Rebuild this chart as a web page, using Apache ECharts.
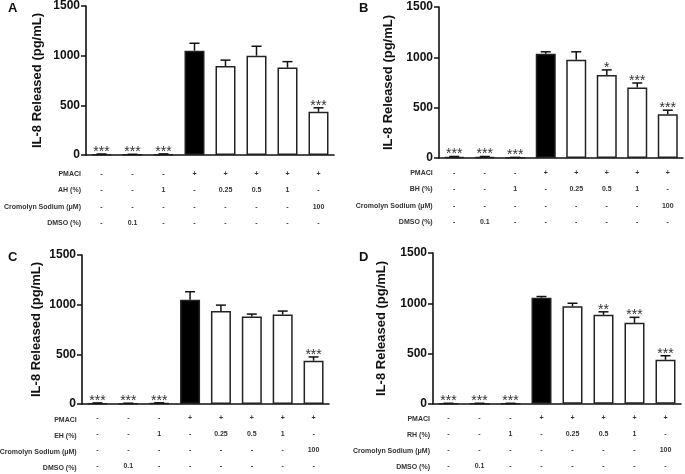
<!DOCTYPE html>
<html><head><meta charset="utf-8">
<script src="https://cdn.jsdelivr.net/npm/echarts@6/dist/echarts.min.js"></script>
<style>html,body{margin:0;padding:0;background:#fff}#c{width:685px;height:474px}</style>
</head><body><div id="c"></div>
<script>
// ---- data ----
const columns = ['1','2','3','4','5','6','7','8'];
const rowPMACI    = ['-','-','-','+','+','+','+','+'];
const rowExtract  = ['-','-','1','-','0.25','0.5','1','-'];
const rowCromolyn = ['-','-','-','-','-','-','-','100'];
const rowDMSO     = ['-','0.1','-','-','-','-','-','-'];

const panelLetters = ['A','B','C','D'];
const extractNames = ['AH (%)','BH (%)','EH (%)','RH (%)'];

const meanA = [5, 4, 6, 1050, 895, 1000, 880, 435];
const errA  = [5, 3, 5, 75, 60, 95, 60, 40];
const sigA  = ['***','***','***','','','','','***'];

const meanB = [10, 10, 3, 1035, 975, 825, 700, 435];
const errB  = [5, 5, 3, 20, 80, 50, 45, 40];
const sigB  = ['***','***','***','','','*','***','***'];

const meanC = [5, 4, 6, 1050, 935, 880, 900, 435];
const errC  = [5, 3, 5, 80, 60, 25, 35, 38];
const sigC  = ['***','***','***','','','','','***'];

const meanD = [3, 3, 3, 1055, 970, 885, 805, 438];
const errD  = [2, 2, 2, 12, 30, 30, 55, 40];
const sigD  = ['***','***','***','','','**','***','***'];

const yTicks = [0, 500, 1000, 1500];
const yTitle = 'IL-8 Released (pg/mL)';

// ---- layout ----
const FONT = '"Liberation Sans", Arial, sans-serif';
const grids = [
  {left:86,  top:4,   width:248, height:151},
  {left:439, top:7,   width:244, height:151},
  {left:82,  top:255, width:247, height:151},
  {left:433, top:253, width:248, height:152}
];
const nameGaps = [42, 44, 39, 45];
const labelMargins = [11, 6.5, 5.7, 6.6];
const lineHeights = [16.3, 16.5, 16.1, 15.9];
const rowLabelRight = [81, 432.7, 76.7, 430];
const letterPos = [[8,2],[359,2],[8,251],[359,251]];

const panels = [
  {mean:meanA, err:errA, sig:sigA},
  {mean:meanB, err:errB, sig:sigB},
  {mean:meanC, err:errC, sig:sigC},
  {mean:meanD, err:errD, sig:sigD}
];

const xAxes = [], yAxes = [], series = [], graphics = [];
panels.forEach((p, k) => {
  xAxes.push({
    type:'category', gridIndex:k, data:columns,
    axisLine:{lineStyle:{color:'#111', width:1.6}},
    axisTick:{alignWithLabel:true, length:4, lineStyle:{color:'#111', width:1.5}},
    axisLabel:{
      interval:0, margin:labelMargins[k], fontSize:7, fontWeight:'bold', color:'#333',
      fontFamily:FONT, lineHeight:lineHeights[k],
      formatter:(v, i) => [rowPMACI[i], rowExtract[i], rowCromolyn[i], rowDMSO[i]].join('\n')
    }
  });
  yAxes.push({
    type:'value', gridIndex:k, min:yTicks[0], max:yTicks[yTicks.length-1], interval:500,
    name:yTitle, nameLocation:'middle', nameGap:nameGaps[k],
    nameTextStyle:{fontSize:13, fontWeight:'bold', color:'#111', fontFamily:FONT},
    axisLine:{show:true, lineStyle:{color:'#111', width:1.6}},
    axisTick:{show:true, length:5, lineStyle:{color:'#111', width:1.5}},
    axisLabel:{fontSize:12, fontWeight:'bold', color:'#111', fontFamily:FONT, margin:6,
      formatter:(v) => String(v)},
    splitLine:{show:false}
  });
  series.push({
    type:'bar', xAxisIndex:k, yAxisIndex:k, barWidth:20, z:2,
    data:p.mean.map((v, i) => ({
      value:v,
      itemStyle:{color: i === 3 ? '#000' : '#fff', borderColor:'#222', borderWidth:1.5}
    }))
  });
  const sig = p.sig;
  series.push({
    type:'custom', xAxisIndex:k, yAxisIndex:k, z:5,
    data:p.mean.map((v, i) => [i, v, p.err[i]]),
    renderItem:(params, api) => {
      const x = api.value(0), v = api.value(1), e = api.value(2);
      const p0 = api.coord([x, v]), p1 = api.coord([x, v + e]);
      const cap = 5;
      const ch = [
        {type:'line', shape:{x1:p0[0], y1:p0[1], x2:p1[0], y2:p1[1]}, style:{stroke:'#111', lineWidth:1.5}},
        {type:'line', shape:{x1:p1[0]-cap, y1:p1[1], x2:p1[0]+cap, y2:p1[1]}, style:{stroke:'#111', lineWidth:1.5}}
      ];
      const s = sig[params.dataIndex];
      if (s) ch.push({type:'text', style:{text:s, x:p1[0], y:p1[1]+5, align:'center', verticalAlign:'bottom',
        fontSize:14, fontFamily:FONT, fill:'#333'}});
      return {type:'group', children:ch};
    }
  });
  // row labels
  const g = grids[k];
  const axisY = g.top + g.height;
  const rowNames = ['PMACI', extractNames[k], 'Cromolyn Sodium (\u03bcM)', 'DMSO (%)'];
  rowNames.forEach((t, r) => {
    graphics.push({type:'text', style:{text:t, x:rowLabelRight[k],
      y:axisY + labelMargins[k] + lineHeights[k]*(r+0.5), align:'right', verticalAlign:'middle',
      fontSize:7, fontWeight:'bold', fill:'#333', fontFamily:FONT}});
  });
  graphics.push({type:'text', style:{text:panelLetters[k], x:letterPos[k][0], y:letterPos[k][1],
    fontSize:13, fontWeight:'bold', fill:'#111', fontFamily:FONT}});
});

const chart = echarts.init(document.getElementById('c'), null, {renderer:'canvas'});
chart.setOption({
  animation:false,
  backgroundColor:'#fff',
  grid:grids,
  xAxis:xAxes,
  yAxis:yAxes,
  series:series,
  graphic:graphics
});
</script></body></html>
